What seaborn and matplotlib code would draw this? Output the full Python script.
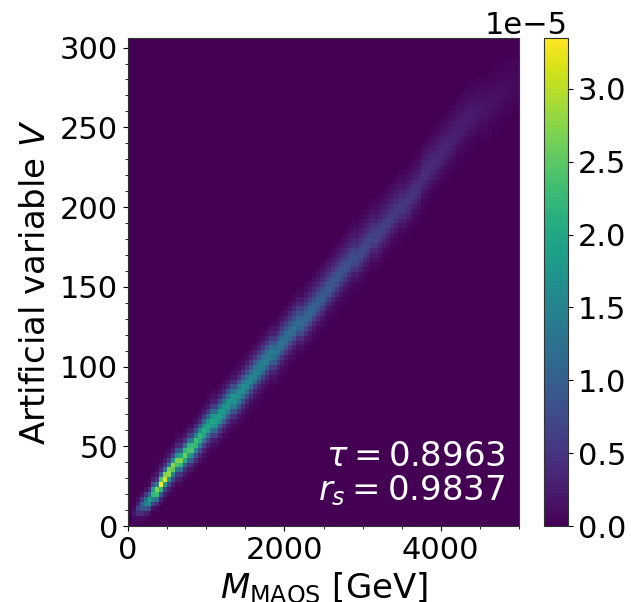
import numpy as np
import pandas as pd
import matplotlib
matplotlib.use("Agg")
import matplotlib.pyplot as plt
from matplotlib.patches import Rectangle
from matplotlib.ticker import MultipleLocator
import seaborn as sns

# histogram cells, density in units of 1e-6
# one list per M_MAOS bin (50 GeV wide), starting at V bin first_row[i]
first_row = [1, 1, 1, 1, 2, 3, 3, 4, 5, 6, 7, 8, 8, 9, 10, 10, 11, 12, 13, 14,
             15, 15, 16, 17, 18, 19, 19, 20, 21, 22, 23, 24, 25, 26, 27, 28, 28, 29, 30, 31,
             32, 33, 34, 34, 35, 36, 37, 38, 39, 40, 41, 42, 43, 44, 45, 46, 47, 47, 48, 49,
             50, 51, 51, 52, 53, 54, 55, 56, 57, 57, 58, 59, 60, 61, 63, 64, 65, 66, 67, 68,
             69, 70, 71, 72, 73, 74, 75, 75, 76, 76, 76, 77, 78, 78, 79, 80, 80, 81, 81]

density_low = [
    [.8, 2, 1], [1, 4, 6, 3, 1], [1, 4, 9, 10, 5, 1.5], [.6, 3, 9, 15, 12, 5, 1.5],
    [2, 7, 16, 19, 11, 4, 1.2], [1.5, 6, 14, 22, 19, 8, 3, 1], [1, 4, 12, 23, 27, 15, 5, 2, .7],
    [1, 3, 9, 22, 33.5, 24, 10, 4, 1.5, .5], [.8, 3, 7, 18, 32, 27, 13, 5, 2, .7],
    [.8, 2.5, 7, 17, 28, 27, 14, 6, 2.5, 1], [.8, 2.5, 7, 15, 25, 28, 17, 7, 3, 1],
    [.8, 2.5, 6, 13, 24, 27, 18, 9, 4, 1.5, .6], [.6, 2, 5, 12, 22, 27, 20, 10, 4.5, 2, .8],
    [.6, 2, 4.5, 10, 20, 26, 22, 12, 5, 2, .8], [.6, 1.8, 4.5, 10, 18, 24, 22, 13, 6, 2.5, 1],
    [.5, 1.5, 4, 9, 16, 24, 23, 14, 7, 3, 1.2, .5], [.5, 1.5, 4, 8, 15, 22, 23, 15, 8, 3.5, 1.5, .6],
    [.5, 1.4, 3.5, 8, 14, 21, 22, 16, 9, 4, 1.7, .7], [.5, 1.3, 3.2, 7, 13, 20, 21, 16, 10, 5, 2, .8],
    [.5, 1.3, 3, 7, 12, 19, 20, 17, 10, 5, 2.2, 1, .4], [.5, 1.2, 3, 6.5, 12, 18, 20, 17, 11, 6, 2.6, 1.2, .5],
    [.4, 1, 2.6, 6, 11, 17, 19, 18, 12, 6.5, 3, 1.4, .6], [.4, 1, 2.5, 5.5, 10, 16, 19, 18, 12, 7, 3.4, 1.5, .6],
    [.4, 1, 2.4, 5.4, 10, 16, 18, 17, 12, 7, 3.4, 1.6, .7], [.4, 1, 2.3, 5, 9.5, 15, 18, 17, 12, 7.5, 3.8, 1.7, .7],
    [.4, .9, 2.2, 4.8, 9, 14, 17, 17, 12.5, 8, 4, 1.9, .8], [.3, .8, 2, 4.4, 8.5, 14, 17, 17.5, 13, 8, 4.2, 2, .9, .4],
    [.3, .8, 2, 4.2, 8, 13, 16, 16, 13, 8.5, 4.5, 2.2, 1, .4], [.3, .8, 1.9, 4, 7.6, 12.5, 16, 16, 13, 8.5, 4.6, 2.3, 1, .4],
    [.3, .8, 1.8, 3.8, 7.2, 12, 15.5, 15.5, 12.5, 8.5, 4.8, 2.4, 1.1, .5],
    [.3, .7, 1.7, 3.6, 7, 11.5, 15, 15.5, 12.5, 8.5, 5, 2.5, 1.2, .5],
    [.3, .7, 1.7, 3.5, 6.6, 11, 14.5, 15, 12.5, 8.8, 5, 2.6, 1.2, .5],
    [.3, .7, 1.6, 3.4, 6.4, 10.5, 14, 15, 12.5, 9, 5.2, 2.8, 1.3, .6],
]

density_mid = [
    [.3, .7, 1.6, 3.3, 6.2, 10.5, 14, 14.5, 12, 8.8, 5.2, 2.8, 1.4, .6],
    [.3, .7, 1.5, 3.2, 6, 10, 14, 14, 12, 8.6, 5.2, 2.9, 1.4, .6],
    [.3, .7, 1.5, 3.1, 5.8, 9.6, 13, 13.8, 12, 8.6, 5.3, 3, 1.5, .7],
    [.3, .7, 1.4, 3, 5.6, 9.4, 12.5, 13.5, 11.5, 8.4, 5.3, 3, 1.6, .7],
    [.3, .6, 1.4, 2.9, 5.4, 9, 12.5, 13, 11.5, 8.4, 5.4, 3.1, 1.6, .8],
    [.3, .6, 1.3, 2.8, 5.2, 8.6, 12, 13, 11, 8.2, 5.4, 3.2, 1.7, .8],
    [.3, .6, 1.3, 2.7, 5, 8.4, 11.5, 12.5, 11, 8.2, 5.4, 3.2, 1.7, .8],
    [.3, .6, 1.3, 2.6, 4.8, 8, 11, 12.5, 10.5, 8, 5.4, 3.3, 1.8, .9],
    [.3, .6, 1.3, 2.6, 4.8, 8, 11, 12, 10.5, 8, 5.5, 3.4, 1.9, .9, .4],
    [.3, .6, 1.2, 2.5, 4.6, 7.6, 10.5, 12, 10.5, 8, 5.5, 3.4, 1.9, 1, .4],
    [.2, .5, 1.1, 2.3, 4.3, 7.2, 10, 11.5, 10.5, 8, 5.5, 3.5, 2, 1, .5],
    [.2, .5, 1.1, 2.2, 4.2, 7, 10, 11, 10, 7.8, 5.4, 3.5, 2, 1, .5],
    [.2, .5, 1.1, 2.2, 4, 6.8, 9.5, 11, 10, 7.8, 5.4, 3.5, 2.1, 1.1, .5],
    [.2, .5, 1, 2.1, 3.9, 6.6, 9.2, 10.5, 9.5, 7.6, 5.3, 3.5, 2.1, 1.1, .5],
    [.2, .5, 1, 2, 3.8, 6.3, 9, 10, 9.5, 7.5, 5.3, 3.5, 2.2, 1.2, .6],
    [.2, .5, 1, 2, 3.7, 6, 8.6, 10, 9.2, 7.4, 5.2, 3.5, 2.2, 1.2, .6],
    [.2, .5, 1, 1.9, 3.5, 5.8, 8.4, 9.6, 9, 7.3, 5.2, 3.5, 2.2, 1.2, .6],
    [.2, .4, .9, 1.8, 3.4, 5.6, 8, 9.5, 8.8, 7.2, 5.1, 3.5, 2.2, 1.3, .6],
    [.2, .4, .9, 1.8, 3.3, 5.4, 7.8, 9, 8.6, 7, 5, 3.4, 2.2, 1.3, .7],
    [.2, .4, .9, 1.7, 3.2, 5.2, 7.5, 8.8, 8.4, 6.8, 5, 3.4, 2.2, 1.3, .7],
    [.2, .4, .8, 1.7, 3.1, 5, 7.2, 8.5, 8.2, 6.6, 4.9, 3.4, 2.2, 1.3, .7],
    [.2, .4, .8, 1.6, 3, 4.8, 7, 8.3, 8, 6.5, 4.8, 3.3, 2.2, 1.3, .7],
    [.2, .4, .8, 1.6, 2.9, 4.7, 6.8, 8, 7.8, 6.4, 4.8, 3.3, 2.2, 1.3, .7, .3],
    [.2, .4, .8, 1.5, 2.8, 4.5, 6.6, 7.8, 7.6, 6.3, 4.7, 3.3, 2.2, 1.4, .8, .4],
    [.1, .3, .7, 1.4, 2.6, 4.2, 6.2, 7.4, 7.5, 6.2, 4.7, 3.3, 2.2, 1.4, .8, .4],
    [.1, .3, .7, 1.4, 2.5, 4.1, 6, 7.2, 7.2, 6, 4.6, 3.2, 2.2, 1.4, .8, .4],
    [.1, .3, .7, 1.3, 2.4, 4, 5.8, 7, 7, 5.9, 4.5, 3.2, 2.2, 1.4, .8, .4],
    [.1, .3, .7, 1.3, 2.3, 3.8, 5.6, 6.8, 6.8, 5.8, 4.4, 3.1, 2.1, 1.4, .8, .4],
    [.1, .3, .6, 1.2, 2.2, 3.6, 5.4, 6.6, 6.6, 5.6, 4.3, 3, 2.1, 1.4, .8, .4],
    [.1, .3, .6, 1.2, 2.2, 3.5, 5.2, 6.4, 6.6, 5.5, 4.2, 3, 2.1, 1.4, .8, .4],
]

density_high = [
    [.1, .3, .6, 1.2, 2.1, 3.4, 5, 6.2, 6.4, 5.4, 4.2, 3, 2.1, 1.4, .8, .4],
    [.1, .3, .6, 1.1, 2, 3.3, 4.9, 6, 6.2, 5.3, 4.1, 3, 2.1, 1.4, .8, .4],
    [.1, .3, .5, 1.1, 2, 3.2, 4.7, 5.8, 6, 5.2, 4.1, 3, 2.1, 1.4, .8, .4],
    [.1, .3, .5, 1, 1.9, 3.1, 4.5, 5.6, 5.8, 5.1, 4, 2.9, 2.1, 1.4, .8, .4],
    [.1, .3, .5, 1, 1.8, 3, 4.3, 5.4, 5.6, 5, 3.9, 2.9, 2, 1.4, .8, .4],
    [.1, .3, .5, 1, 1.8, 2.9, 4.2, 5.2, 5.4, 4.9, 3.8, 2.8, 2, 1.3, .8, .4],
    [.1, .2, .4, .9, 1.6, 2.6, 3.8, 4.8, 5.3, 4.8, 3.8, 2.8, 2, 1.3, .8, .4],
    [.1, .2, .4, .9, 1.6, 2.5, 3.7, 4.6, 5.1, 4.7, 3.8, 2.8, 2, 1.3, .8, .4],
    [.1, .2, .4, .8, 1.5, 2.4, 3.6, 4.5, 4.9, 4.6, 3.7, 2.8, 2, 1.3, .8, .5],
    [.1, .2, .4, .8, 1.4, 2.3, 3.4, 4.3, 4.7, 4.5, 3.6, 2.7, 2, 1.3, .8, .5],
    [.1, .2, .4, .8, 1.4, 2.2, 3.3, 4.1, 4.5, 4.3, 3.5, 2.7, 1.9, 1.3, .8, .5],
    [.1, .2, .4, .7, 1.3, 2.1, 3.2, 4, 4.3, 4.1, 3.4, 2.6, 1.9, 1.3, .8, .5],
    [.1, .2, .4, .7, 1.2, 2, 3, 3.8, 4.1, 3.9, 3.3, 2.5, 1.9, 1.3, .8, .5],
    [.1, .2, .3, .7, 1.2, 1.9, 2.8, 3.6, 4, 3.8, 3.2, 2.5, 1.8, 1.3, .8, .5],
    [.1, .2, .3, .6, 1.1, 1.8, 2.7, 3.4, 3.8, 3.6, 3.1, 2.4, 1.8, 1.2, .8, .5],
    [.1, .2, .3, .6, 1.1, 1.7, 2.6, 3.3, 3.6, 3.5, 3, 2.4, 1.7, 1.2, .8, .5],
    [.1, .2, .3, .6, 1, 1.6, 2.4, 3.1, 3.5, 3.3, 2.9, 2.3, 1.7, 1.2, .8, .5],
    [.1, .2, .3, .5, .9, 1.5, 2.3, 3, 3.3, 3.2, 2.8, 2.2, 1.6, 1.2, .8, .5],
    [.1, .2, .3, .5, .9, 1.4, 2.2, 2.8, 3.1, 3, 2.7, 2.1, 1.6, 1.1, .8, .5],
    [.1, .2, .3, .5, .8, 1.4, 2, 2.6, 3, 2.9, 2.5, 2, 1.5, 1.1, .7, .5],
    [.1, .2, .3, .5, .8, 1.3, 1.9, 2.5, 2.8, 2.7, 2.4, 1.9, 1.5, 1.1, .7, .5],
    [.1, .2, .3, .4, .7, 1.2, 1.8, 2.3, 2.6, 2.6, 2.3, 1.8, 1.4, 1, .7, .4],
    [.1, .2, .3, .4, .7, 1.1, 1.7, 2.2, 2.5, 2.4, 2.2, 1.8, 1.3, 1, .7, .4],
    [.1, .2, .3, .4, .6, 1, 1.6, 2, 2.3, 2.3, 2, 1.7, 1.3, .9, .6, .4],
    [.1, .2, .3, .4, .6, 1, 1.5, 1.9, 2.2, 2.1, 1.9, 1.6, 1.2, .9, .6, .4],
    [.1, .1, .2, .3, .5, .8, 1.2, 1.6, 2, 2, 1.8, 1.5, 1.2, .9, .6, .4],
    [.1, .1, .2, .3, .5, .7, 1.1, 1.5, 1.8, 1.9, 1.7, 1.4, 1.1, .8, .6, .4],
    [.1, .1, .2, .3, .4, .7, 1, 1.4, 1.7, 1.7, 1.6, 1.3, 1.1, .8, .5, .3],
    [.1, .1, .2, .3, .4, .6, .9, 1.3, 1.5, 1.6, 1.4, 1.2, 1, .7, .5, .3],
    [.1, .1, .2, .2, .4, .6, .9, 1.2, 1.4, 1.5, 1.3, 1.1, .9, .7, .5, .3],
    [.1, .1, .2, .2, .3, .5, .8, 1.1, 1.3, 1.3, 1.2, 1, .8, .6, .4, .3],
    [.1, .1, .1, .2, .3, .5, .7, 1, 1.2, 1.2, 1.1, .9, .7, .6, .4, .3],
    [.1, .1, .1, .2, .3, .4, .6, .9, 1.1, 1.1, 1, .8, .7, .5, .4, .2],
    [.1, .1, .1, .2, .3, .4, .6, .8, 1, 1, .9, .8, .6, .5, .3, .2],
    [.1, .1, .1, .2, .2, .3, .5, .7, .9, .9, .8, .7, .5, .4, .3, .2],
    [.1, .1, .1, .1, .2, .3, .4, .6, .8, .8, .7, .6, .5, .4, .3, .2],
]

x_max = 5000
y_max = 306
n_bins = 100

rows = []
for col, (start, vals) in enumerate(zip(first_row, density_low + density_mid + density_high), start=1):
    for k, val in enumerate(vals):
        rows.append(((col + .5) * x_max / n_bins, (start + k + .5) * y_max / n_bins, val * 1e-6))
cells = pd.DataFrame(rows, columns=["mmaos", "v", "density"])

plt.rcParams.update({"font.size": 22, "axes.edgecolor": "#333333"})

fig = plt.figure(figsize=(6.31, 6.02), dpi=100)
ax = fig.add_axes([128 / 631, 1 - 526 / 602, 391 / 631, 488 / 602])
cax = fig.add_axes([544 / 631, 1 - 526 / 602, 24 / 631, 488 / 602])

sns.histplot(data=cells, x="mmaos", y="v", weights="density", bins=n_bins,
             binrange=((0, x_max), (0, y_max)), cmap="viridis", thresh=None,
             cbar=True, cbar_ax=cax, ax=ax, vmin=0, vmax=3.35e-5)

ax.set_xlim(0, x_max)
ax.set_ylim(0, y_max)
ax.xaxis.set_major_locator(MultipleLocator(2000))
ax.xaxis.set_minor_locator(MultipleLocator(500))
ax.yaxis.set_major_locator(MultipleLocator(50))
ax.yaxis.set_minor_locator(MultipleLocator(10))
ax.set_xlabel(r"$M_{\mathrm{MAOS}}$ [GeV]", fontsize=24.5, labelpad=4)
ax.set_ylabel(r"Artificial variable $V$", fontsize=24.5, labelpad=6)

ax.text(0.965, 0.1415, r"$\tau = 0.8963$", color="white", fontsize=24.5, ha="right", va="center", transform=ax.transAxes)
ax.text(0.965, 0.0725, r"$r_s = 0.9837$", color="white", fontsize=24.5, ha="right", va="center", transform=ax.transAxes)

cax.set_yticks([0, .5e-5, 1e-5, 1.5e-5, 2e-5, 2.5e-5, 3e-5])

# the reference picture is cropped just past the colorbar labels
fig.add_artist(Rectangle((625 / 631, 0), 6 / 631, 1, transform=fig.transFigure, color="white", zorder=10))

fig.savefig("out.png", dpi=100)
